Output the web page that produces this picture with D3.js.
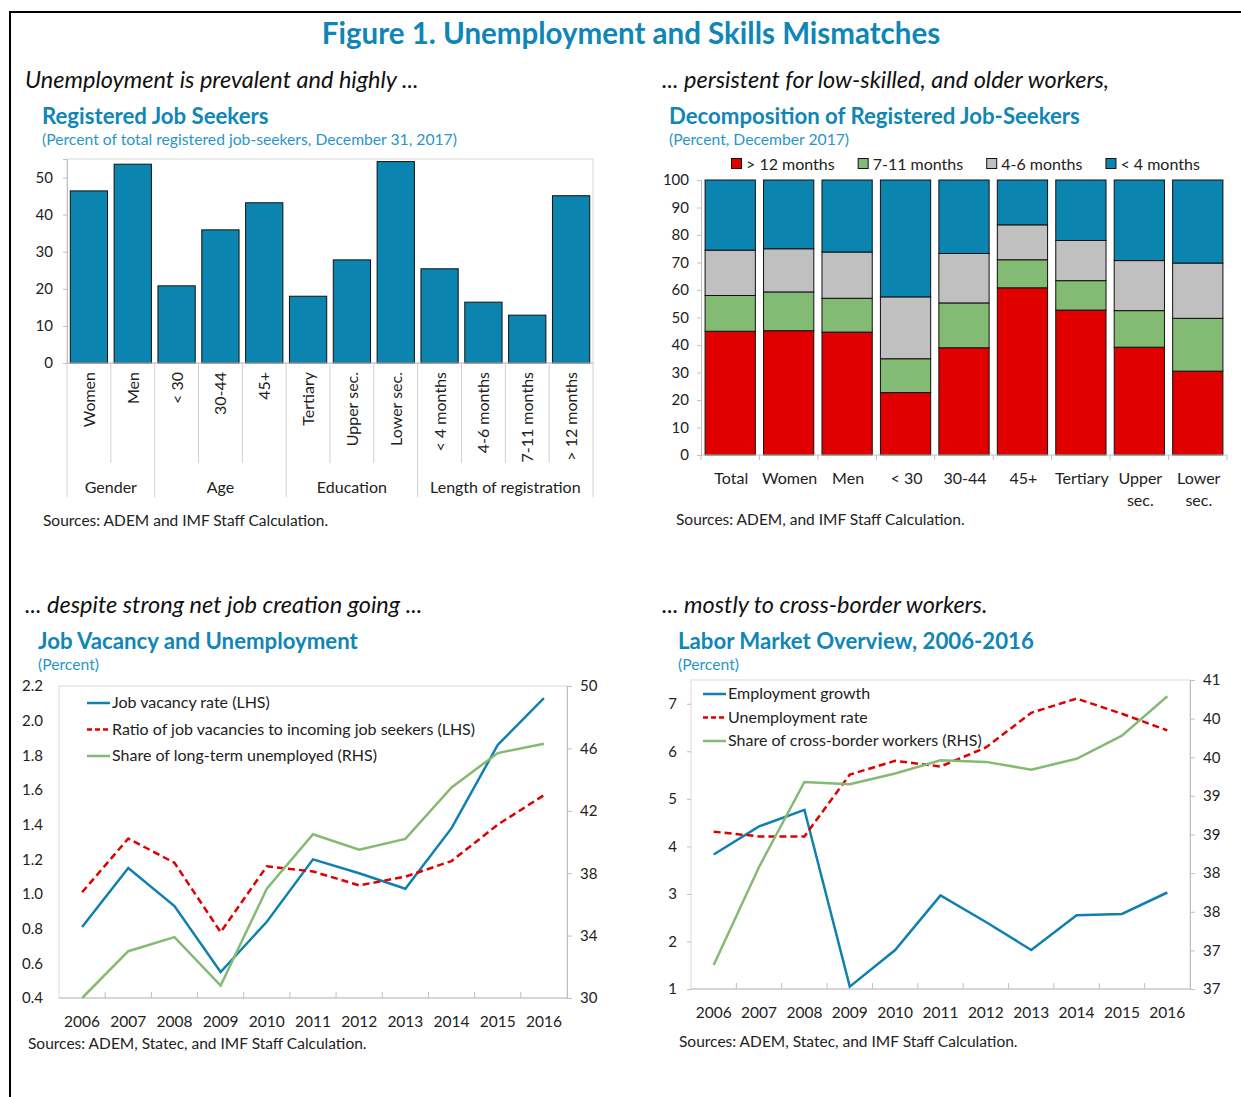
<!DOCTYPE html>
<html>
<head>
<meta charset="utf-8">
<title>Figure 1. Unemployment and Skills Mismatches</title>
<script src="https://cdn.jsdelivr.net/npm/d3@7"></script>
<style>
  body { margin: 0; background: #fff; }
  svg { font-family: Lato, "Open Sans", sans-serif; }
  .fig-title { font-weight: 700; font-size: 29.5px; fill: #0f86b6; }
  .lead { font-style: italic; font-size: 23.5px; fill: #111; }
  .ctitle { font-weight: 700; font-size: 22.2px; fill: #0f86b6; }
  .csub { font-size: 15.7px; fill: #2a95c8; }
  .lbl { font-size: 16px; fill: #222; }
  .src { font-size: 15.5px; fill: #222; }
  .axis path, .axis line { stroke: #bfbfbf; }
  .axis text { font-size: 15px; fill: #222; font-family: Lato, "Open Sans", sans-serif; }
</style>
</head>
<body>
<script>
// ---- data ----
var regCategories = ["Women", "Men", "< 30", "30-44", "45+", "Tertiary", "Upper sec.", "Lower sec.",
                     "< 4 months", "4-6 months", "7-11 months", "> 12 months"];
var regValues = [46.4, 53.6, 20.8, 35.9, 43.2, 18.0, 27.8, 54.3, 25.4, 16.4, 12.9, 45.1];
var regGroups = ["Gender", "Age", "Education", "Length of registration"];
var regGroupSizes = [2, 3, 3, 4];

var decompCategories = ["Total", "Women", "Men", "< 30", "30-44", "45+", "Tertiary", "Upper sec.", "Lower sec."];
var over12 = [45.0, 45.2, 44.7, 22.7, 39.0, 60.8, 52.7, 39.2, 30.5];
var m7to11 = [13.0, 14.1, 12.3, 12.3, 16.3, 10.2, 10.7, 13.3, 19.2];
var m4to6 = [16.5, 15.7, 16.8, 22.5, 18.0, 12.7, 14.6, 18.2, 20.1];
var under4 = [25.5, 25.0, 26.2, 42.5, 26.7, 16.3, 22.0, 29.3, 30.2];
var decompKeys = ["> 12 months", "7-11 months", "4-6 months", "< 4 months"];

var years = ["2006", "2007", "2008", "2009", "2010", "2011", "2012", "2013", "2014", "2015", "2016"];
var vacancyRate = [0.81, 1.15, 0.93, 0.55, 0.84, 1.20, 1.12, 1.03, 1.38, 1.86, 2.13];
var vacancyRatio = [1.01, 1.32, 1.18, 0.78, 1.16, 1.13, 1.05, 1.10, 1.19, 1.40, 1.57];
var longTermShare = [30.0, 33.0, 33.9, 30.8, 37.0, 40.5, 39.5, 40.2, 43.5, 45.7, 46.3];

var employmentGrowth = [3.83, 4.42, 4.77, 1.05, 1.82, 2.97, 2.41, 1.82, 2.55, 2.58, 3.03];
var unemploymentRate = [4.31, 4.21, 4.21, 5.51, 5.80, 5.68, 6.08, 6.81, 7.11, 6.79, 6.44];
var crossBorderShare = [36.81, 38.08, 39.18, 39.15, 39.29, 39.46, 39.44, 39.34, 39.48, 39.78, 40.29];

var BLUE = "#0b84b0", RED = "#e00000", GREEN = "#84bb74", GREY = "#c0c0c0", LINEBLUE = "#0f80b0";

var svg = d3.select("body").append("svg")
    .attr("width", 1241)
    .attr("height", 1097);

// figure border
svg.append("path")
    .attr("d", "M10,1097 L10,12 L1241,12")
    .attr("fill", "none")
    .attr("stroke", "#000")
    .attr("stroke-width", 2);

svg.append("text").attr("class", "fig-title")
    .attr("x", 631).attr("y", 44).attr("text-anchor", "middle")
    .text("Figure 1. Unemployment and Skills Mismatches");

function header(x, y, lead, tx, title, sub) {
    svg.append("text").attr("class", "lead").attr("x", x).attr("y", y).text(lead);
    svg.append("text").attr("class", "ctitle").attr("x", tx).attr("y", y + 36).text(title);
    svg.append("text").attr("class", "csub").attr("x", tx).attr("y", y + 57).text(sub);
}

/* ---------- panel 1: registered job seekers ---------- */
header(25, 88, "Unemployment is prevalent and highly ...", 42, "Registered Job Seekers",
       "(Percent of total registered job-seekers, December 31, 2017)");

var x1 = d3.scaleBand().domain(regCategories).range([67, 593]);
var y1 = d3.scaleLinear().domain([0, 55]).range([363, 159]);

svg.append("rect").attr("x", 67).attr("y", 159).attr("width", 526).attr("height", 204)
    .attr("fill", "none").attr("stroke", "#d9d9d9");

svg.append("g").attr("class", "axis")
    .attr("transform", "translate(67,0)")
    .call(d3.axisLeft(y1).tickValues([0, 10, 20, 30, 40, 50]).tickSize(4).tickPadding(10))
    .call(g => g.select(".domain").attr("stroke", "#bfbfbf"));

svg.append("g").selectAll("rect")
    .data(regValues)
    .join("rect")
    .attr("x", (d, i) => x1(regCategories[i]) + x1.bandwidth() * 0.075)
    .attr("width", x1.bandwidth() * 0.85)
    .attr("y", d => y1(d))
    .attr("height", d => y1(0) - y1(d))
    .attr("fill", BLUE)
    .attr("stroke", "#111")
    .attr("stroke-width", 1);

svg.append("line").attr("x1", 67).attr("x2", 593).attr("y1", 363).attr("y2", 363).attr("stroke", "#bfbfbf");

// category separators and group separators
var groupEdges = [0];
regGroupSizes.forEach(n => groupEdges.push(groupEdges[groupEdges.length - 1] + n));
d3.range(regCategories.length + 1).forEach(function(i) {
    var xx = i < regCategories.length ? x1(regCategories[i]) : x1.range()[1];
    var isGroup = groupEdges.indexOf(i) >= 0;
    svg.append("line")
        .attr("x1", xx).attr("x2", xx)
        .attr("y1", 363).attr("y2", isGroup ? 497 : 463)
        .attr("stroke", "#d0d0d0");
});

svg.append("g").selectAll("text")
    .data(regCategories)
    .join("text")
    .attr("class", "lbl")
    .attr("transform", d => "translate(" + (x1(d) + x1.bandwidth() / 2 + 6) + ",372) rotate(-90)")
    .attr("text-anchor", "end")
    .text(d => d);

regGroups.forEach(function(g, i) {
    var a = x1(regCategories[groupEdges[i]]);
    var b = groupEdges[i + 1] < regCategories.length ? x1(regCategories[groupEdges[i + 1]]) : x1.range()[1];
    svg.append("text").attr("class", "lbl")
        .attr("x", (a + b) / 2).attr("y", 493).attr("text-anchor", "middle").text(g);
});

svg.append("text").attr("class", "src").attr("x", 43).attr("y", 526)
    .text("Sources: ADEM and IMF Staff Calculation.");

/* ---------- panel 2: decomposition ---------- */
header(662, 88, "... persistent for low-skilled, and older workers,", 669, "Decomposition of Registered Job-Seekers",
       "(Percent, December 2017)");

var x2 = d3.scaleBand().domain(decompCategories).range([701, 1227]).paddingInner(0.14).paddingOuter(0.07);
var y2 = d3.scaleLinear().domain([0, 100]).range([455, 180]);
var c2 = d3.scaleOrdinal().domain(decompKeys).range([RED, GREEN, GREY, BLUE]);

var rows = decompCategories.map((c, i) => ({
    cat: c,
    "> 12 months": over12[i],
    "7-11 months": m7to11[i],
    "4-6 months": m4to6[i],
    "< 4 months": under4[i]
}));
var stacked = d3.stack().keys(decompKeys)(rows);

svg.append("g").selectAll("g")
    .data(stacked)
    .join("g")
    .attr("fill", d => c2(d.key))
    .selectAll("rect")
    .data(d => d)
    .join("rect")
    .attr("x", d => x2(d.data.cat))
    .attr("width", x2.bandwidth())
    .attr("y", d => y2(d[1]))
    .attr("height", d => y2(d[0]) - y2(d[1]))
    .attr("stroke", "#111")
    .attr("stroke-width", 1);

svg.append("g").attr("class", "axis")
    .attr("transform", "translate(701,0)")
    .call(d3.axisLeft(y2).tickValues(d3.range(0, 101, 10)).tickSize(4).tickPadding(8));

var step2 = x2.step();
svg.append("g").attr("class", "axis")
    .attr("transform", "translate(0,455)")
    .call(g => {
        g.append("line").attr("x1", 701).attr("x2", 1227).attr("stroke", "#bfbfbf");
        g.selectAll(".tk").data(d3.range(decompCategories.length + 1)).join("line")
            .attr("x1", i => 701 + x2.paddingOuter() * step2 - x2.paddingInner() * step2 / 2 + i * step2)
            .attr("x2", i => 701 + x2.paddingOuter() * step2 - x2.paddingInner() * step2 / 2 + i * step2)
            .attr("y1", 0).attr("y2", 5).attr("stroke", "#bfbfbf");
    });

decompCategories.forEach(function(c) {
    var parts = c.indexOf("sec.") >= 0 ? c.split(" ") : [c];
    var t = svg.append("text").attr("class", "lbl").attr("text-anchor", "middle");
    parts.forEach((p, j) => {
        t.append("tspan").attr("x", x2(c) + x2.bandwidth() / 2 + 1).attr("y", 484 + j * 22).text(p);
    });
});

var leg2 = svg.append("g").attr("transform", "translate(731,164)");
var lx = 0;
decompKeys.forEach(function(k) {
    var g = leg2.append("g").attr("transform", "translate(" + lx + ",0)");
    g.append("rect").attr("x", 0.5).attr("y", -5.5).attr("width", 10).attr("height", 10)
        .attr("fill", c2(k)).attr("stroke", "#111");
    var t = g.append("text").attr("class", "lbl").attr("x", 15).attr("y", 5.5).text(k);
    lx += 15 + t.node().getComputedTextLength() + 23;
});

svg.append("text").attr("class", "src").attr("x", 676).attr("y", 525)
    .text("Sources: ADEM, and IMF Staff Calculation.");

/* ---------- line chart helper ---------- */
function lineChart(o) {
    var x = d3.scaleBand().domain(years).range([o.left, o.right]);
    var yl = d3.scaleLinear().domain(o.lDomain).range([o.bottom, o.top]);
    var yr = d3.scaleLinear().domain(o.rDomain).range([o.bottom, o.top]);
    var cx = d => x(d) + x.bandwidth() / 2;

    svg.append("rect").attr("x", o.left).attr("y", o.top)
        .attr("width", o.right - o.left).attr("height", o.bottom - o.top)
        .attr("fill", "none").attr("stroke", "#d9d9d9");

    svg.append("g").attr("class", "axis")
        .attr("transform", "translate(" + o.left + ",0)")
        .call(d3.axisLeft(yl).tickValues(o.lTicks).tickFormat(o.lFormat).tickSize(o.lTick).tickPadding(o.lPad))
        .call(g => g.select(".domain").remove());
    svg.append("g").attr("class", "axis")
        .attr("transform", "translate(" + o.right + ",0)")
        .call(d3.axisRight(yr).tickValues(o.rTicks).tickFormat(o.rFormat).tickSize(5).tickPadding(8));

    // bottom axis: tick marks between years, pointing up
    var bx = svg.append("g").attr("class", "axis").attr("transform", "translate(0," + o.bottom + ")");
    bx.append("line").attr("x1", o.left).attr("x2", o.right).attr("stroke", "#bfbfbf");
    bx.selectAll(".tk").data(years.slice(1)).join("line")
        .attr("x1", d => x(d)).attr("x2", d => x(d))
        .attr("y1", 0).attr("y2", -6).attr("stroke", "#bfbfbf");
    bx.selectAll("text").data(years).join("text")
        .attr("class", "lbl").style("font-size", "15.5px").attr("text-anchor", "middle")
        .attr("x", cx).attr("y", o.yearY - o.bottom).text(d => d);

    o.series.forEach(function(s) {
        var sc = s.rhs ? yr : yl;
        svg.append("path")
            .datum(s.values)
            .attr("fill", "none")
            .attr("stroke", s.color)
            .attr("stroke-width", 2.5)
            .attr("stroke-dasharray", s.dash || null)
            .attr("d", d3.line().x((d, i) => cx(years[i])).y(d => sc(d)));
    });

    o.series.forEach(function(s, i) {
        var yy = o.legendY + i * o.legendGap;
        svg.append("line")
            .attr("x1", o.legendX).attr("x2", o.legendX + 23)
            .attr("y1", yy).attr("y2", yy)
            .attr("stroke", s.color).attr("stroke-width", 2.5)
            .attr("stroke-dasharray", s.dash ? "5,3" : null);
        svg.append("text").attr("class", "lbl")
            .attr("x", o.legendX + 25).attr("y", yy + 5).text(s.name);
    });

    svg.append("text").attr("class", "src").attr("x", o.srcX).attr("y", o.srcY).text(o.src);
}

/* ---------- panel 3: job vacancy ---------- */
header(25, 613, "... despite strong net job creation going ...", 38, "Job Vacancy and Unemployment", "(Percent)");

lineChart({
    left: 59, right: 567, top: 686, bottom: 998,
    lDomain: [0.4, 2.2], rDomain: [30, 50],
    lTicks: d3.range(0.4, 2.21, 0.2), lFormat: d3.format(".1f"), lTick: 0, lPad: 16,
    rTicks: [30, 34, 38, 42, 46, 50], rFormat: d3.format("d"),
    yearY: 1027,
    legendX: 87, legendY: 703, legendGap: 26.5,
    series: [
        { name: "Job vacancy rate (LHS)", values: vacancyRate, color: LINEBLUE },
        { name: "Ratio of job vacancies to incoming job seekers (LHS)", values: vacancyRatio, color: RED, dash: "7,4" },
        { name: "Share of long-term unemployed (RHS)", values: longTermShare, color: GREEN, rhs: true }
    ],
    srcX: 28, srcY: 1049, src: "Sources: ADEM, Statec, and IMF Staff Calculation."
});

/* ---------- panel 4: labor market overview ---------- */
header(662, 613, "... mostly to cross-border workers.", 678, "Labor Market Overview, 2006-2016", "(Percent)");

lineChart({
    left: 691, right: 1190, top: 680, bottom: 989,
    lDomain: [1, 7.5], rDomain: [36.5, 40.5],
    lTicks: d3.range(1, 8), lFormat: d3.format("d"), lTick: 4, lPad: 10,
    rTicks: d3.range(36.5, 40.51, 0.5), rFormat: d => String(Math.round(d)),
    yearY: 1018,
    legendX: 703, legendY: 694, legendGap: 23.5,
    series: [
        { name: "Employment growth", values: employmentGrowth, color: LINEBLUE },
        { name: "Unemployment rate", values: unemploymentRate, color: RED, dash: "7,4" },
        { name: "Share of cross-border workers (RHS)", values: crossBorderShare, color: GREEN, rhs: true }
    ],
    srcX: 679, srcY: 1047, src: "Sources: ADEM, Statec, and IMF Staff Calculation."
});
</script>
</body>
</html>
